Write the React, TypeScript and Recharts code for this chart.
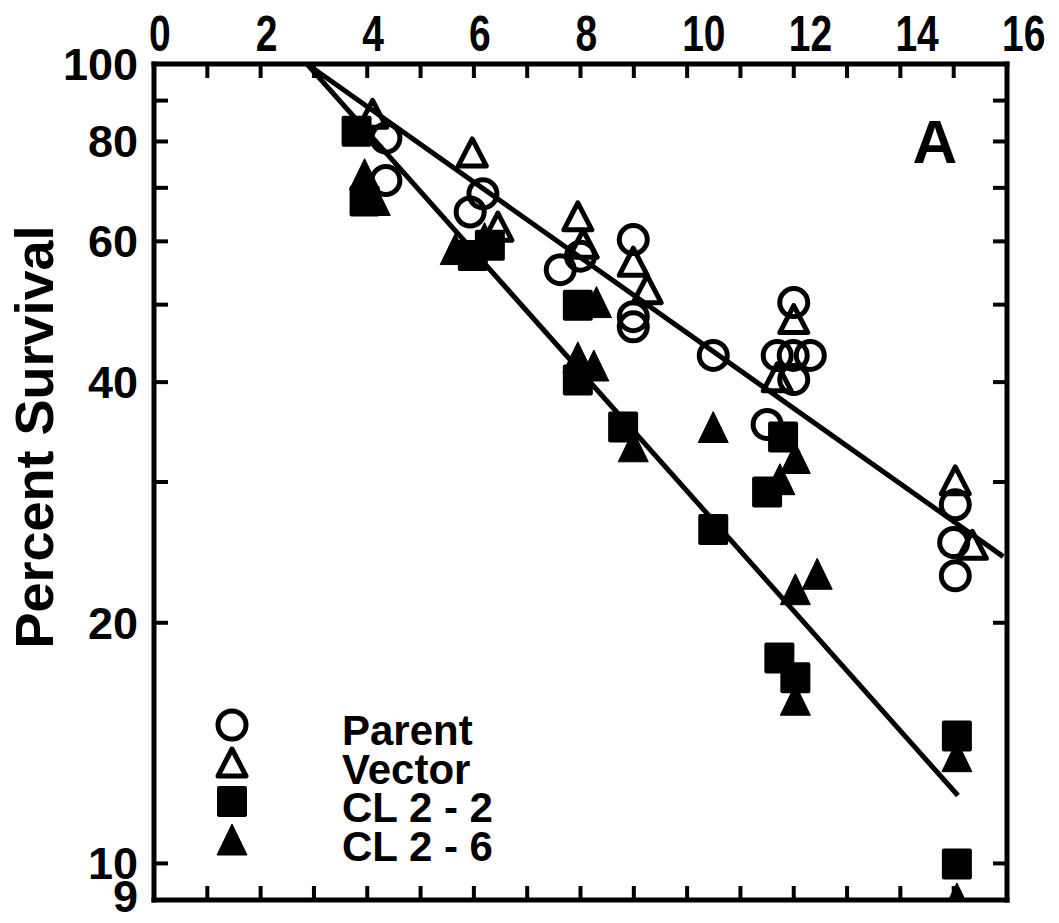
import React from 'react';
import { ScatterChart, Scatter, XAxis, YAxis, Legend } from 'recharts';

// dose on the top axis, percent survival on a log axis
const xTicks = [0, 1, 2, 3, 4, 5, 6, 7, 8, 9, 10, 11, 12, 13, 14, 15, 16];
const yTicks = [9, 10, 20, 30, 40, 50, 60, 70, 80, 90, 100];
const yLabels = [9, 10, 20, 40, 60, 80, 100];

const parent = [
  { x: 4.35, y: 80.8 }, { x: 4.35, y: 71.5 }, { x: 5.93, y: 65.3 }, { x: 6.17, y: 68.8 },
  { x: 7.62, y: 55.3 }, { x: 8.0, y: 57.5 }, { x: 8.99, y: 60.3 }, { x: 8.99, y: 48.3 },
  { x: 8.99, y: 46.9 }, { x: 10.49, y: 43.2 }, { x: 11.5, y: 35.4 }, { x: 11.69, y: 43.2 },
  { x: 11.99, y: 43.2 }, { x: 12.31, y: 43.2 }, { x: 12.0, y: 50.3 }, { x: 12.0, y: 40.3 },
  { x: 15.03, y: 28.1 }, { x: 15.0, y: 25.2 }, { x: 15.03, y: 22.9 },
];

const vector = [
  { x: 4.1, y: 86.5 }, { x: 5.97, y: 77.4 }, { x: 6.45, y: 62.5 }, { x: 7.95, y: 64.4 },
  { x: 8.05, y: 59.5 }, { x: 8.99, y: 56.5 }, { x: 9.25, y: 52.2 }, { x: 11.69, y: 40.5 },
  { x: 12.0, y: 47.9 }, { x: 15.03, y: 30.1 }, { x: 15.35, y: 25.0 },
];

const cl22 = [
  { x: 3.8, y: 82.5 }, { x: 3.95, y: 67.5 }, { x: 5.98, y: 57.7 }, { x: 6.3, y: 59.4 },
  { x: 7.95, y: 50.0 }, { x: 7.95, y: 40.3 }, { x: 8.8, y: 35.2 }, { x: 10.49, y: 26.2 },
  { x: 11.5, y: 29.2 }, { x: 11.8, y: 34.2 }, { x: 11.73, y: 18.1 }, { x: 12.03, y: 17.1 },
  { x: 15.06, y: 14.45 }, { x: 15.06, y: 10.0 },
];

const cl26 = [
  { x: 3.95, y: 72.7 }, { x: 4.15, y: 67.5 }, { x: 5.65, y: 58.6 }, { x: 6.2, y: 60.5 },
  { x: 8.3, y: 50.3 }, { x: 7.95, y: 42.9 }, { x: 8.25, y: 41.9 }, { x: 8.99, y: 33.2 },
  { x: 10.49, y: 35.1 }, { x: 11.74, y: 30.2 }, { x: 12.03, y: 32.1 }, { x: 12.03, y: 22.0 },
  { x: 12.44, y: 23.0 }, { x: 12.03, y: 16.0 }, { x: 15.06, y: 13.6 }, { x: 15.06, y: 9.03 },
];

// regression lines
const fitParentVector = [{ x: 2.87, y: 100 }, { x: 15.93, y: 24.2 }];
const fitClones = [{ x: 2.87, y: 100 }, { x: 15.08, y: 12.16 }];

const FONT = "'Liberation Sans', Arial, sans-serif";
const frame = { stroke: '#000', strokeWidth: 5, strokeLinecap: 'square' as const };

const OpenCircle = ({ cx, cy }: any) => (
  <circle cx={cx} cy={cy} r={14} fill="none" stroke="#000" strokeWidth={5} />
);
const OpenTriangle = ({ cx, cy }: any) => (
  <path
    d={`M${cx},${cy - 14} L${cx + 14},${cy + 13} L${cx - 14},${cy + 13} Z`}
    fill="none" stroke="#000" strokeWidth={5} strokeLinejoin="round"
  />
);
const FilledSquare = ({ cx, cy }: any) => (
  <rect x={cx - 15} y={cy - 15} width={30} height={31} rx={2} fill="#000" />
);
const FilledTriangle = ({ cx, cy }: any) => (
  <path
    d={`M${cx},${cy - 16} L${cx + 15},${cy + 15} L${cx - 15},${cy + 15} Z`}
    fill="#000" stroke="#000" strokeWidth={1} strokeLinejoin="round"
  />
);
const NoDot = () => <g />;

const TopTick = ({ x, y, payload }: any) => {
  const v = payload.value;
  return (
    <g>
      {v > 0 && v < 16 && <line x1={x} y1={y} x2={x} y2={y + 14} stroke="#000" strokeWidth={4} />}
      {v % 2 === 0 && (
        <text
          transform={`translate(${x - 5},${y - 13}) scale(0.78,1)`}
          textAnchor="start" fontFamily={FONT} fontWeight="bold" fontSize={50} fill="#000"
        >
          {v}
        </text>
      )}
    </g>
  );
};

const BottomTick = ({ x, y, payload }: any) =>
  payload.value > 0 && payload.value < 16 ? (
    <line x1={x} y1={y} x2={x} y2={y - 14} stroke="#000" strokeWidth={4} />
  ) : (
    <g />
  );

const LeftTick = ({ x, y, payload }: any) => {
  const v = payload.value;
  return (
    <g>
      {v >= 10 && v <= 90 && <line x1={x} y1={y} x2={x + 14} y2={y} stroke="#000" strokeWidth={4} />}
      {yLabels.includes(v) && (
        <text
          x={x - 16} y={v === 9 ? y + 12 : y + 16} textAnchor="end"
          fontFamily={FONT} fontWeight="bold" fontSize={45} fill="#000"
        >
          {v}
        </text>
      )}
    </g>
  );
};

const RightTick = ({ x, y, payload }: any) =>
  payload.value >= 10 && payload.value <= 90 ? (
    <line x1={x} y1={y} x2={x - 14} y2={y} stroke="#000" strokeWidth={4} />
  ) : (
    <g />
  );

const legendRows = ['Parent', 'Vector', 'CL 2 - 2', 'CL 2 - 6'];

const renderLegend = () => (
  <svg width={320} height={180}>
    <circle cx={32} cy={25} r={14} fill="none" stroke="#000" strokeWidth={5} />
    <path d="M32,49 L46,76 L18,76 Z" fill="none" stroke="#000" strokeWidth={5} strokeLinejoin="round" />
    <rect x={17} y={86} width={30} height={31} rx={2} fill="#000" />
    <path d="M32,124 L47,155 L17,155 Z" fill="#000" stroke="#000" strokeWidth={1} strokeLinejoin="round" />
    {legendRows.map((name, i) => (
      <text
        key={name} x={142} y={45 + i * 38.5}
        fontFamily={FONT} fontWeight="bold" fontSize={42} fill="#000"
      >
        {name}
      </text>
    ))}
  </svg>
);

const App: React.FC = () => (
  <div style={{ position: 'absolute', left: 0, top: 0, width: 1059, height: 923, background: '#fff' }}>
    <ScatterChart width={1059} height={923} margin={{ top: 14, right: 12, bottom: 3, left: 54 }}>
      <XAxis
        xAxisId="top" orientation="top" type="number" dataKey="x" domain={[0, 16]}
        ticks={xTicks} interval={0} height={50} tickSize={0} tickMargin={0}
        tickLine={false} axisLine={frame} tick={TopTick} allowDataOverflow
      />
      <XAxis
        xAxisId="bottom" orientation="bottom" type="number" dataKey="x" domain={[0, 16]}
        ticks={xTicks} interval={0} height={20} tickSize={0} tickMargin={0}
        tickLine={false} axisLine={frame} tick={BottomTick} allowDataOverflow
      />
      <YAxis
        yAxisId="left" orientation="left" type="number" dataKey="y" scale="log" domain={[9, 100]}
        ticks={yTicks} interval={0} width={100} tickSize={0} tickMargin={0}
        tickLine={false} axisLine={frame} tick={LeftTick} allowDataOverflow
      />
      <YAxis
        yAxisId="right" orientation="right" type="number" dataKey="y" scale="log" domain={[9, 100]}
        ticks={yTicks} interval={0} width={40} tickSize={0} tickMargin={0}
        tickLine={false} axisLine={frame} tick={RightTick} allowDataOverflow
      />

      <Scatter name="Parent" data={parent} xAxisId="top" yAxisId="left" shape={OpenCircle} isAnimationActive={false} />
      <Scatter name="Vector" data={vector} xAxisId="top" yAxisId="left" shape={OpenTriangle} isAnimationActive={false} />
      <Scatter name="CL 2 - 2" data={cl22} xAxisId="top" yAxisId="left" shape={FilledSquare} isAnimationActive={false} />
      <Scatter name="CL 2 - 6" data={cl26} xAxisId="top" yAxisId="left" shape={FilledTriangle} isAnimationActive={false} />

      <Scatter
        data={fitParentVector} xAxisId="top" yAxisId="left" shape={NoDot}
        line={{ stroke: '#000', strokeWidth: 5 }} legendType="none" isAnimationActive={false}
      />
      <Scatter
        data={fitClones} xAxisId="top" yAxisId="left" shape={NoDot}
        line={{ stroke: '#000', strokeWidth: 5 }} legendType="none" isAnimationActive={false}
      />

      <Legend
        layout="vertical" align="center" verticalAlign="middle" content={renderLegend}
        wrapperStyle={{ left: 200, top: 700, width: 320, height: 180 }}
      />

      <text x={935} y={163} textAnchor="middle" fontFamily={FONT} fontWeight="bold" fontSize={62} fill="#000">
        A
      </text>
      <text
        transform="translate(53,437) rotate(-90)" textAnchor="middle"
        fontFamily={FONT} fontWeight="bold" fontSize={54} fill="#000"
      >
        Percent Survival
      </text>
    </ScatterChart>
  </div>
);

export default App;
